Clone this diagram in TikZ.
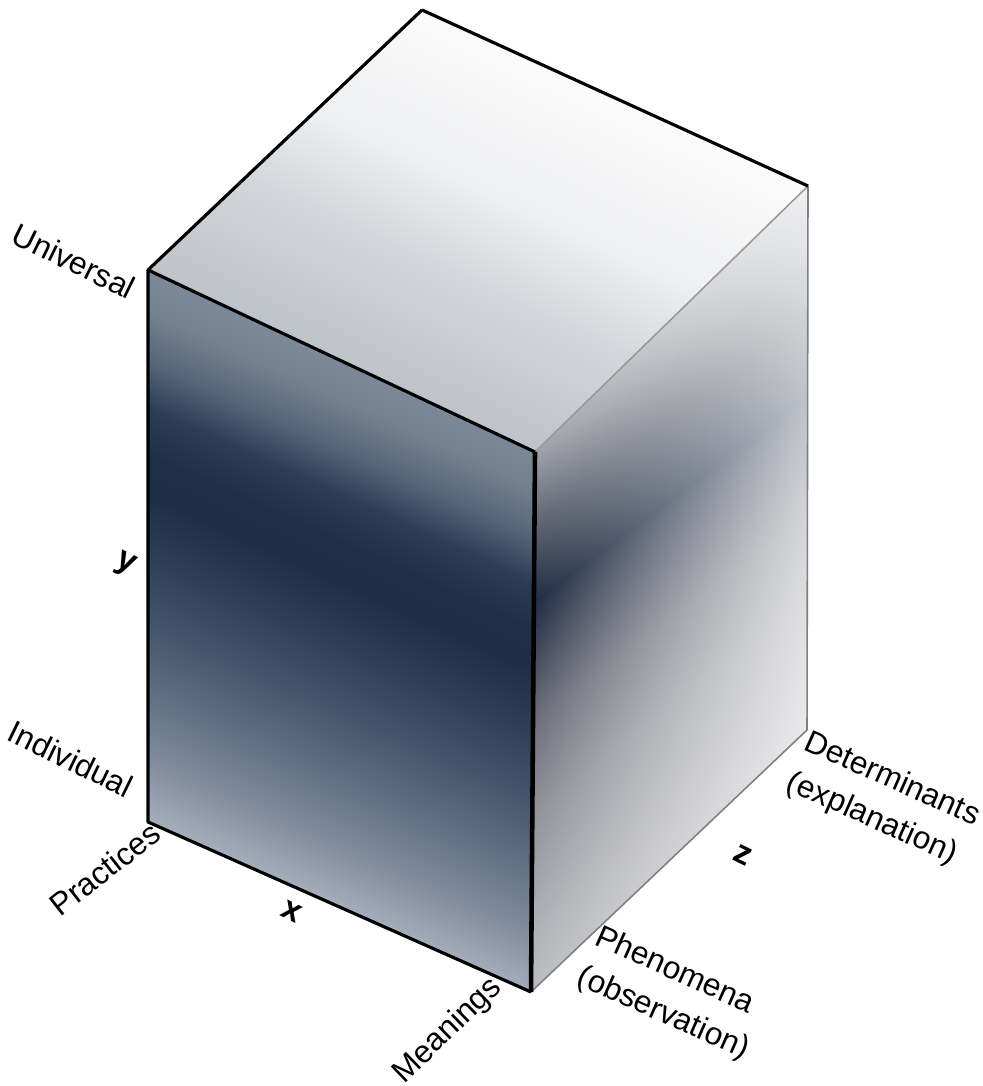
\documentclass[tikz,border=0pt]{standalone}
\usepackage{fontspec}
\setmainfont{Liberation Sans}
\usetikzlibrary{fadings}

% front face colours, bottom to top
\definecolor{fa}{HTML}{B0B8C4}
\definecolor{fb}{HTML}{8490A0}
\definecolor{fc}{HTML}{617084}
\definecolor{fd}{HTML}{45546A}
\definecolor{fe}{HTML}{2D3D54}
\definecolor{ff}{HTML}{1E2E45}
\definecolor{fg}{HTML}{1F2F47}
\definecolor{fh}{HTML}{2C3D55}
\definecolor{fi}{HTML}{56667A}
\definecolor{fj}{HTML}{74818F}
\definecolor{fk}{HTML}{7E8A9A}
% side face colours
\definecolor{sa}{HTML}{BCBDC1}
\definecolor{sb}{HTML}{B0B1B6}
\definecolor{sc}{HTML}{8F9198}
\definecolor{sd}{HTML}{6B6E78}
\definecolor{se}{HTML}{41475A}
\definecolor{sf}{HTML}{1D2B42}
\definecolor{sg}{HTML}{5F6470}
\definecolor{sh}{HTML}{9A9DA4}
\definecolor{si}{HTML}{C8CACE}
% top face colours
\definecolor{ta}{HTML}{BEC2C9}
\definecolor{tb}{HTML}{D4D6DB}
\definecolor{tc}{HTML}{EEEFF1}
\definecolor{td}{HTML}{FBFBFB}

\pgfdeclareverticalshading{frontshade}{100bp}{color(0bp)=(fa); color(25bp)=(fa);
  color(31.35bp)=(fb); color(37.6bp)=(fc); color(43.85bp)=(fd); color(50bp)=(fe);
  color(55bp)=(ff); color(58.35bp)=(fg); color(62.5bp)=(fh); color(66.65bp)=(fi);
  color(70.85bp)=(fj); color(75bp)=(fk); color(100bp)=(fk)}
\pgfdeclareverticalshading{sideshade}{100bp}{color(0bp)=(sa); color(25bp)=(sa);
  color(30bp)=(sb); color(40bp)=(sc); color(47.5bp)=(sd); color(53bp)=(se);
  color(57.4bp)=(sf); color(64bp)=(sg); color(69.4bp)=(sh); color(75bp)=(si);
  color(100bp)=(si)}
\pgfdeclareverticalshading{topshade}{100bp}{color(0bp)=(ta); color(25bp)=(ta);
  color(42.5bp)=(tb); color(55bp)=(tc); color(75bp)=(td); color(100bp)=(td)}

\tikzfading[name=fadeleft, left color=transparent!100, right color=transparent!0]

\begin{document}
\begin{tikzpicture}[
	lbl/.style={font=\fontsize{9}{12.4}\selectfont, inner sep=0pt, align=left},
	axis lbl/.style={font=\fontsize{9.5}{11}\selectfont\bfseries, inner sep=0pt},
	edge/.style={line width=0.9pt, line join=round},
	faint edge/.style={line width=0.45pt, black!50}]
	\useasboundingbox (0,0) rectangle (9.82,10.86);

	\coordinate (A) at (1.48,8.16);
	\coordinate (B) at (5.35,6.34);
	\coordinate (C) at (5.31,0.94);
	\coordinate (D) at (1.48,2.64);
	\coordinate (E) at (4.22,10.76);
	\coordinate (F) at (8.08,9.00);
	\coordinate (G) at (8.07,3.56);

	% front face
	\begin{scope}
		\clip (D) -- (C) -- (B) -- (A) -- cycle;
		\begin{scope}[transform canvas={cm={3.87,-1.76,0,5.52,(1.48,2.64)}}]
			\shade[shading=frontshade] (0,-0.03) rectangle (1.01,1.01);
		\end{scope}
	\end{scope}

	% side face
	\begin{scope}
		\clip (C) -- (G) -- (F) -- (B) -- cycle;
		\begin{scope}[transform canvas={cm={2.77,2.07,0,5.99,(5.31,0.94)}}]
			\shade[shading=sideshade] (0,0) rectangle (1.01,1);
		\end{scope}
	\end{scope}
	\fill[white, path fading=fadeleft, fill opacity=0.72] (C) -- (G) -- (F) -- (B) -- cycle;

	% top face
	\begin{scope}
		\clip (A) -- (B) -- (F) -- (E) -- cycle;
		\begin{scope}[transform canvas={cm={3.87,-1.82,2.74,2.60,(1.48,8.16)}}]
			\shade[shading=topshade] (0,0) rectangle (1.02,1.02);
		\end{scope}
	\end{scope}

	\draw[faint edge, black!40] (B) -- (F);
	\draw[faint edge] (F) -- (G) -- (C);
	\draw[edge] (E) -- (F);
	\draw[edge] (E) -- (A) -- (B);
	\draw[edge] (A) -- (D) -- (C);
	\draw[edge, line width=1.3pt] (B) -- (C);

	\node[lbl, rotate=-26] (universal) at (0.74,8.25){Universal};
	\node[lbl, rotate=-26] (individual) at (0.71,3.27){Individual};
	\node[lbl, rotate=38] (practices) at (1.05,2.17){Practices};
	\node[lbl, rotate=44] (meanings) at (4.48,0.55){Meanings};
	\node[lbl, rotate=-24] (phenomena) at (6.72,0.92){Phenomena\\(observation)};
	\node[lbl, rotate=-24] (determinants) at (8.83,2.86){Determinants\\(explanation)};

	\node[axis lbl, rotate=-26] (y) at (1.25,5.21){y};
	\node[axis lbl, rotate=-26] (x) at (2.92,1.74){x};
	\node[axis lbl, rotate=-26] (z) at (7.43,2.31){z};
\end{tikzpicture}
\end{document}
